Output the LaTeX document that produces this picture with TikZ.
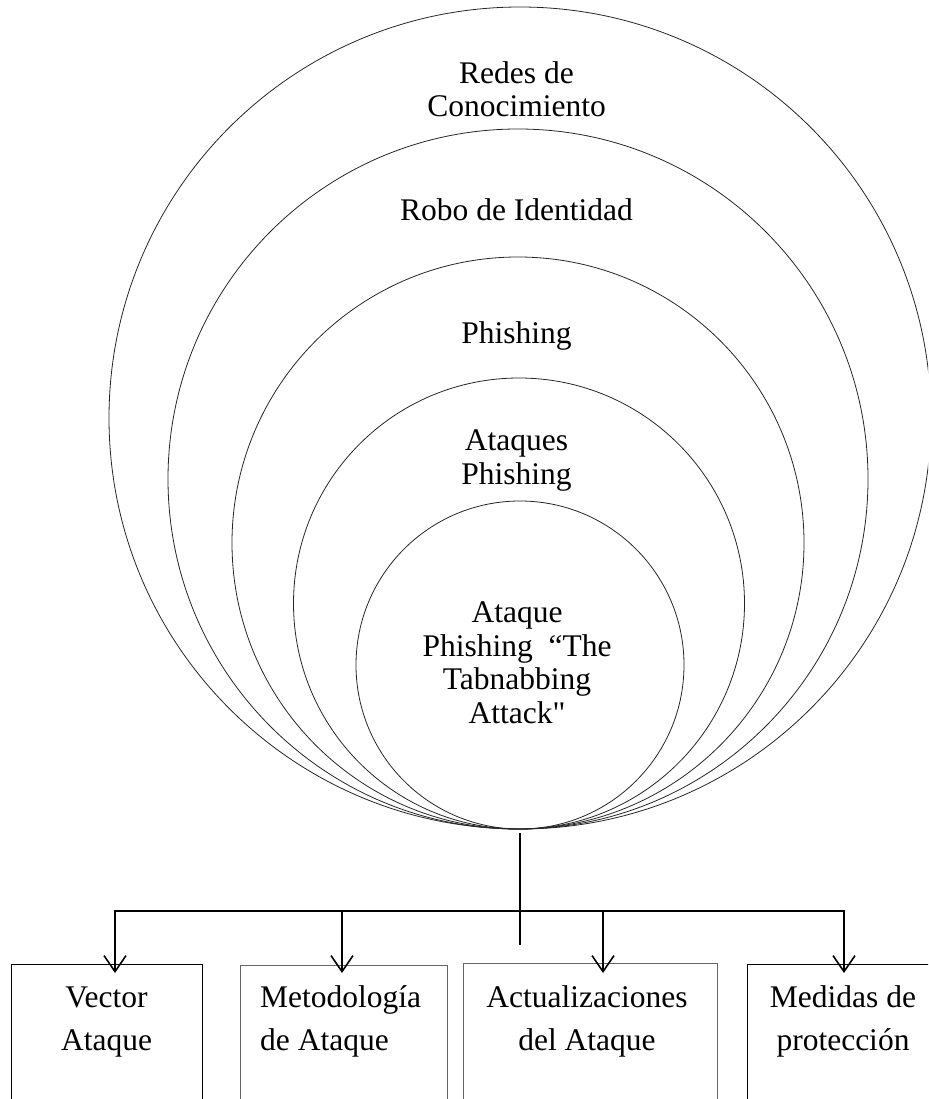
\documentclass[tikz,border=0pt]{standalone}
\usepackage{fontspec}
\setmainfont{Liberation Serif}
\newfontfamily\plainquote{Liberation Serif}
\usetikzlibrary{arrows.meta,calc}
\begin{document}
\begin{tikzpicture}[x=1pt,y=-1pt,
  ring/.style={circle,draw=black!85,line width=0.8pt,inner sep=0pt,outer sep=0pt},
  ringlabel/.style={align=center,inner sep=0pt,anchor=base,font=\fontsize{31.5}{33.5}\selectfont},
  box/.style={rectangle,draw,line width=0.8pt,inner sep=0pt,outer sep=0pt,anchor=north west,minimum height=150pt},
  boxlabel/.style={inner sep=0pt,anchor=base,align=center,font=\fontsize{31.5}{43}\selectfont},
  link/.style={line width=2pt},
  arr/.style={link,-{Straight Barb[length=16pt,width=22pt,line width=1.6pt]}}]

\useasboundingbox (0,0) rectangle (928,1099);
\clip (0,0) rectangle (928,1099);

% nested circles, all touching at the bottom
\node[ring,minimum size=822pt] (c1) at (520,418) {};
\node[ring,minimum size=700pt] (c2) at (518,479) {};
\node[ring,minimum size=572pt] (c3) at (518,543) {};
\node[ring,minimum size=451pt] (c4) at (519,603.5) {};
\node[ring,minimum size=328pt] (c5) at (520,665) {};

% circle captions (anchored on the baseline of the last line)
\node[ringlabel] (t1) at (516.5,117) {Redes de\\Conocimiento};
\node[ringlabel] (t2) at (516.5,221) {Robo de Identidad};
\node[ringlabel] (t3) at (516.5,343) {Phishing};
\node[ringlabel] (t4) at (516.5,484) {Ataques\\Phishing};
\node[ringlabel] (t5) at (517,723) {Ataque\\Phishing\ \ “The\\Tabnabbing\\Attack{\plainquote"}};

% boxes along the bottom
\node[box,minimum width=191pt] (b1) at (11,964) {};
\node[box,draw=black!60,minimum width=207pt] (b2) at (240,965) {};
\node[box,draw=black!60,minimum width=254pt] (b3) at (463,963) {};
\node[box,minimum width=200pt] (b4) at (747,964) {};

\node[boxlabel] (l1) at (106.5,1050) {Vector\\Ataque};
\node[boxlabel,align=left,anchor=base west] (l2) at (260,1050) {Metodología\\de Ataque};
\node[boxlabel] (l3) at (587,1050) {Actualizaciones\\del Ataque};
\node[boxlabel] (l4) at (843,1050) {Medidas de\\protección};

% distribution bar
\coordinate (h1) at (115,911);
\coordinate (h2) at (342,911);
\coordinate (h3) at (603,911);
\coordinate (h4) at (844,911);
\coordinate (stemend) at (520,945);

\draw[link] ($(c5.south)+(0,4)$) -- (stemend);
\draw[link] (h2) -- (h3);
\draw[arr] (h2) -- (h1) -- ($(h1 |- b1.north)+(0,9)$);
\draw[arr] (h2) -- ($(h2 |- b2.north)+(0,8)$);
\draw[arr] (h3) -- ($(h3 |- b3.north)+(0,10)$);
\draw[arr] (h3) -- (h4) -- ($(h4 |- b4.north)+(0,9)$);
\end{tikzpicture}
\end{document}
